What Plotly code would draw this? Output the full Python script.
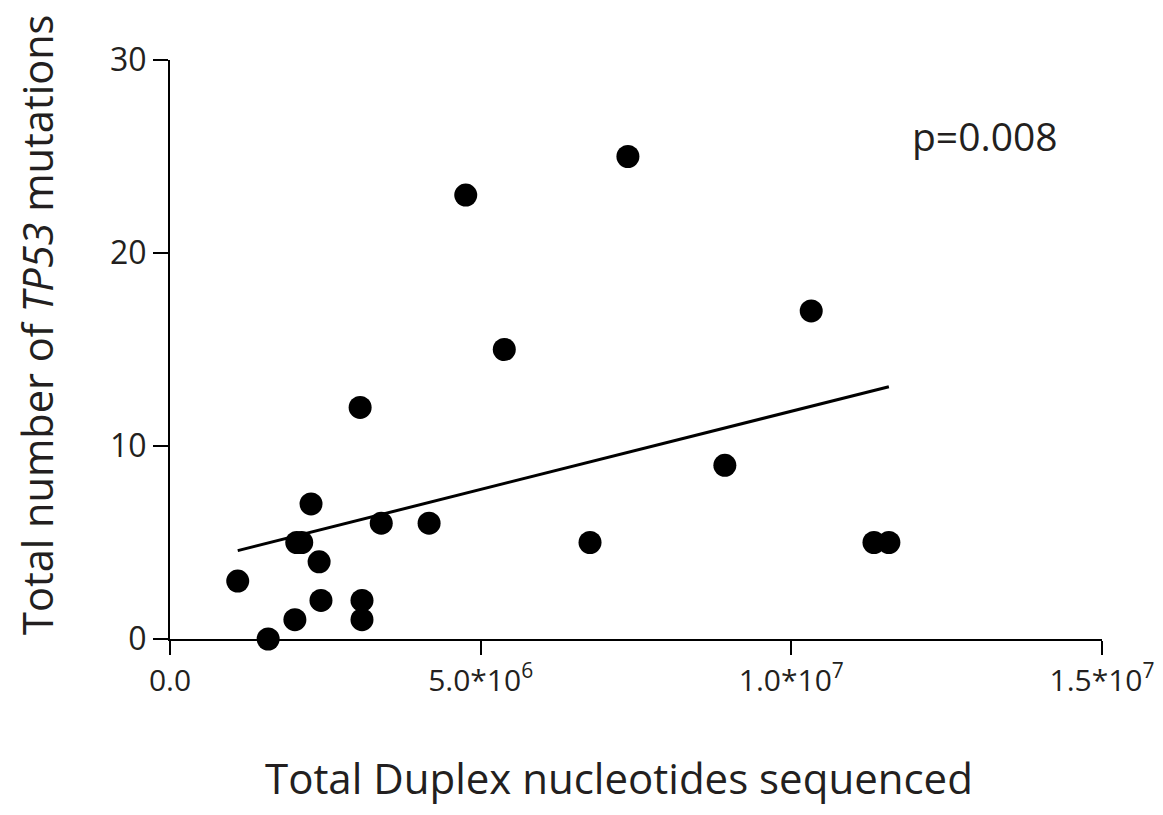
import numpy as np
import plotly.graph_objects as go

# Data
duplex_nt = [1.09e6, 1.58e6, 2.01e6, 2.04e6, 2.12e6, 2.27e6, 2.40e6, 2.43e6, 3.06e6, 3.09e6,
             3.09e6, 3.40e6, 4.17e6, 4.76e6, 5.38e6, 6.76e6, 7.37e6, 8.93e6, 10.32e6, 11.33e6, 11.57e6]
tp53_mut = [3, 0, 1, 5, 5, 7, 4, 2, 12, 2,
            1, 6, 6, 23, 15, 5, 25, 9, 17, 5, 5]
x_tickvals = [0, 5e6, 1e7, 1.5e7]
x_ticktext = ["0.0", "5.0*10<sup>6</sup>", "1.0*10<sup>7</sup>", "1.5*10<sup>7</sup>"]
y_tickvals = [0, 10, 20, 30]
p_label = "p=0.008"
x_title = "Total Duplex nucleotides sequenced"
y_title = "Total number of <i>TP53</i> mutations"

# Linear fit
xa = np.array(duplex_nt)
ya = np.array(tp53_mut)
slope, intercept = np.polyfit(xa, ya, 1)
fit_x = [xa.min(), xa.max()]
fit_y = [slope * v + intercept for v in fit_x]

INK = "#231f20"
FONT = "Open Sans"

fig = go.Figure()
fig.add_trace(go.Scatter(x=fit_x, y=fit_y, mode="lines",
                         line=dict(color="black", width=3), hoverinfo="skip", showlegend=False))
fig.add_trace(go.Scatter(x=duplex_nt, y=tp53_mut, mode="markers",
                         marker=dict(color="black", size=23, line=dict(width=0)),
                         cliponaxis=False, showlegend=False))

fig.add_annotation(x=13.12e6, y=26.1, xref="x", yref="y", text=p_label, showarrow=False,
                   font=dict(family=FONT, size=39, color=INK))
fig.add_annotation(x=0.482, y=-0.240, xref="paper", yref="paper", text=x_title, showarrow=False,
                   xanchor="center", yanchor="middle",
                   font=dict(family=FONT, size=42, color=INK))
fig.add_annotation(x=-0.143, y=0.542, xref="paper", yref="paper", text=y_title, showarrow=False,
                   xanchor="center", yanchor="middle", textangle=-90,
                   font=dict(family=FONT, size=41.5, color=INK))

fig.update_layout(
    width=1147, height=799,
    margin=dict(l=162, r=53, t=52, b=168),
    plot_bgcolor="white", paper_bgcolor="white",
    font=dict(family=FONT, color=INK),
    xaxis=dict(range=[0, 1.5e7], tickvals=x_tickvals, ticktext=x_ticktext,
               automargin=False,
               showline=True, linecolor="black", linewidth=2,
               ticks="outside", ticklen=14, tickwidth=2, tickcolor="black",
               showgrid=False, zeroline=False,
               tickfont=dict(family=FONT, size=30, color=INK)),
    yaxis=dict(range=[0, 30], tickvals=y_tickvals,
               automargin=False,
               showline=True, linecolor="black", linewidth=2,
               ticks="outside", ticklen=15, tickwidth=2, tickcolor="black",
               showgrid=False, zeroline=False,
               tickfont=dict(family=FONT, size=32, color=INK)),
)

fig.write_html("out.html")
